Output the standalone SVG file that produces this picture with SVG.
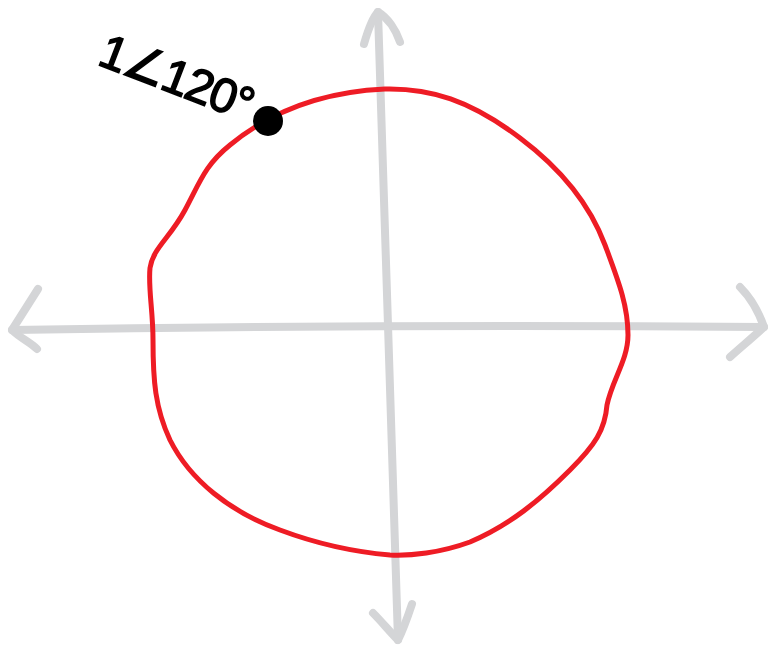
<svg xmlns="http://www.w3.org/2000/svg" width="769" height="647" viewBox="0 0 769 647">
<style>
.axis{fill:none;stroke:#d4d5d7;stroke-width:8;stroke-linecap:round;stroke-linejoin:round}
.curve{fill:none;stroke:#ee1c25;stroke-width:5;stroke-linejoin:round}
.lbl{font-family:"Liberation Sans",Arial,sans-serif;font-size:48px;fill:#000;stroke:#000;stroke-width:1.5;letter-spacing:-1.5px}
</style>
<rect width="769" height="647" fill="#fff"/>
<g id="axes">
<path class="axis" d="M12,330 C200,327 500,325 764,327"/>
<path class="axis" d="M38,289 L12,330 C20,338 30,342 37,349"/>
<path class="axis" d="M740,287 C750,297 758,310 764,327 C752,338 740,348 730,357"/>
<path class="axis" d="M378,12 C384,200 392,450 398,640"/>
<path class="axis" d="M364,44 C368,30 372,18 378,12 C388,18 396,30 400,42"/>
<path class="axis" d="M373,613 C382,622 390,632 398,640 C404,628 408,616 412,604"/>
</g>
<g id="circle">
<path class="curve" d="M385,89 C430,88 470,100 520,138 C560,168 590,205 605,245 C618,280 628,305 628,335 C628,360 612,380 607,405 C605,430 595,445 570,470 C540,500 510,525 470,542 C440,553 410,556 390,555 C355,552 320,545 280,530 C230,512 190,480 170,440 C155,408 153,380 153,340 C153,310 148,288 150,268 C153,248 170,238 185,210 C200,182 205,165 230,145 C270,112 320,92 385,89 Z"/>
</g>
<g id="point">
<circle cx="268" cy="121" r="15" fill="#000"/>
<text class="lbl" x="96" y="64" transform="rotate(21 96 64)">1∠120°</text>
</g>
</svg>
